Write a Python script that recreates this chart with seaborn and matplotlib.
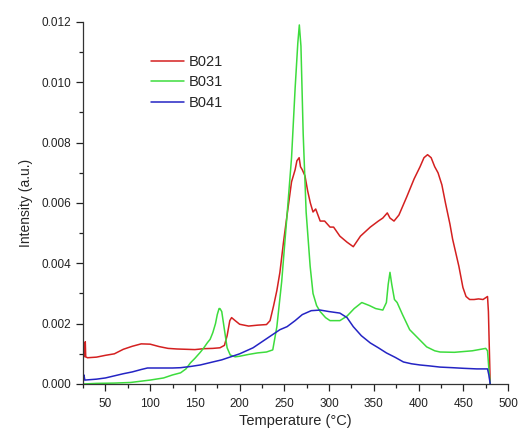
import matplotlib
matplotlib.use("Agg")
import matplotlib.pyplot as plt
import seaborn as sns
import pandas as pd
from matplotlib.ticker import MultipleLocator, FormatStrFormatter

# Data (temperature in deg C, intensity in a.u.)
temp_b021 = [27, 27.5, 28, 30, 35, 40, 50, 60, 70, 80, 90, 100, 110, 120, 130,
             140, 150, 160, 170, 178, 183, 186, 189, 191, 195, 200, 210, 220,
             230, 234, 238, 241.6, 245, 249, 253, 258, 262, 264, 266.5, 268,
             270, 273, 276, 279, 282, 285, 290, 295, 301, 305, 312, 320, 327,
             335, 346, 355, 360, 365, 368, 372.5, 378, 386.7, 395, 401.6, 406,
             410, 414, 418, 421.7, 426, 430, 435, 438, 445, 449.5, 453, 457,
             462, 467, 472, 477, 478, 479, 480]
int_b021 = [0.0009, 0.0014, 0.0009, 0.00087, 0.00088, 0.00089, 0.00095, 0.001,
            0.00115, 0.00125, 0.00133, 0.00132, 0.00124, 0.00118, 0.00116,
            0.00115, 0.00114, 0.00117, 0.00118, 0.0012, 0.00128, 0.0016,
            0.0021, 0.0022, 0.0021, 0.00198, 0.00192, 0.00195, 0.00197, 0.0021,
            0.0026, 0.0031, 0.0037, 0.0047, 0.0056, 0.0067, 0.0071, 0.0074,
            0.0075, 0.0072, 0.0071, 0.0069, 0.0064, 0.006, 0.0057, 0.0058,
            0.0054, 0.0054, 0.0052, 0.0052, 0.0049, 0.0047, 0.00455, 0.0049,
            0.0052, 0.0054, 0.0055, 0.00567, 0.0055, 0.0054, 0.0056, 0.0062,
            0.0068, 0.0072, 0.0075, 0.0076, 0.0075, 0.0072, 0.007, 0.0066,
            0.006, 0.0053, 0.0048, 0.0039, 0.0032, 0.0029, 0.0028, 0.0028,
            0.00282, 0.0028, 0.0029, 0.0024, 0.0012, 0.0]

temp_b031 = [25, 40, 60, 78, 100, 115, 125, 134, 140, 145, 150, 156, 160, 164,
             167, 170, 173, 175, 177, 178, 180, 182, 184, 186, 189.5, 195, 200,
             210, 220, 230, 237, 241.6, 247, 252.7, 258, 262, 265, 266.7,
             268.5, 271, 274.3, 278.8, 282, 286, 290, 296, 301, 312, 320, 328,
             336.5, 345, 352, 360, 364, 366, 368, 370, 373, 376, 382, 390, 400,
             409, 418, 424, 440, 460, 475, 477, 478.5, 480]
int_b031 = [0.0, 0.00002, 0.00003, 0.00005, 0.00013, 0.0002, 0.0003, 0.00037,
            0.0005, 0.0007, 0.00085, 0.00105, 0.0012, 0.00137, 0.00148,
            0.0017, 0.002, 0.0023, 0.0025, 0.0025, 0.0024, 0.002, 0.0016,
            0.0012, 0.00096, 0.0009, 0.00092, 0.00098, 0.00103, 0.00106,
            0.00113, 0.0019, 0.0034, 0.0055, 0.0075, 0.0098, 0.0113, 0.0119,
            0.0112, 0.0083, 0.0057, 0.0039, 0.003, 0.0026, 0.0024, 0.0022,
            0.0021, 0.0021, 0.00225, 0.0025, 0.0027, 0.0026, 0.0025, 0.00245,
            0.0027, 0.0033, 0.0037, 0.0033, 0.0028, 0.0027, 0.0023, 0.0018,
            0.0015, 0.00123, 0.0011, 0.00106, 0.00105, 0.0011, 0.00118, 0.0011,
            0.0005, 0.0]

temp_b041 = [25, 26, 27, 40, 50, 60, 70, 80, 90, 97, 110, 125, 134, 145, 156,
             170, 180, 190, 200, 215, 230, 245, 253, 262, 270, 280, 290, 300,
             312, 320, 327, 336, 346, 355, 364, 374, 383, 392, 401.6, 412, 424,
             438, 450, 465, 477, 478.5, 480]
int_b041 = [0.0, 0.0003, 0.00013, 0.00016, 0.0002, 0.00027, 0.00034, 0.0004,
            0.00048, 0.00053, 0.00053, 0.00053, 0.00054, 0.00058, 0.00063,
            0.00073, 0.0008, 0.0009, 0.001, 0.0012, 0.0015, 0.0018, 0.0019,
            0.0021, 0.0023, 0.00243, 0.00245, 0.0024, 0.00235, 0.0022, 0.0019,
            0.0016, 0.00136, 0.0012, 0.00103, 0.00088, 0.00073, 0.00067,
            0.00063, 0.0006, 0.00056, 0.00054, 0.00052, 0.0005, 0.0005,
            0.0003, 0.0]

series_names = ["B021", "B031", "B041"]
series_colors = ["#d42020", "#3ddc3d", "#2424c4"]

x_ticks = [50, 100, 150, 200, 250, 300, 350, 400, 450, 500]
y_ticks = [0.000, 0.002, 0.004, 0.006, 0.008, 0.010, 0.012]


def build_frame():
    parts = []
    for name, t, v in zip(series_names,
                          [temp_b021, temp_b031, temp_b041],
                          [int_b021, int_b031, int_b041]):
        parts.append(pd.DataFrame({"Temperature": t, "Intensity": v, "Sample": name}))
    return pd.concat(parts, ignore_index=True)


def plot_data(df):
    sns.set_style("ticks")
    plt.rcParams["font.family"] = ["Liberation Sans", "DejaVu Sans"]

    fig = plt.figure(figsize=(5.19, 4.30), dpi=100)
    ax = fig.add_axes([0.160, 0.107, 0.819, 0.842])

    sns.lineplot(data=df, x="Temperature", y="Intensity", hue="Sample",
                 palette=dict(zip(series_names, series_colors)),
                 estimator=None, sort=False, linewidth=1.1, ax=ax)

    ax.set_xlim(25, 500)
    ax.set_ylim(0, 0.012)
    ax.set_xticks(x_ticks)
    ax.set_yticks(y_ticks)
    ax.xaxis.set_minor_locator(MultipleLocator(25))
    ax.yaxis.set_minor_locator(MultipleLocator(0.001))
    ax.yaxis.set_major_formatter(FormatStrFormatter("%.3f"))
    ax.tick_params(which="major", direction="out", length=5, width=0.9,
                   labelsize=8.5, colors="#222222")
    ax.tick_params(axis="x", which="major", pad=5)
    ax.tick_params(which="minor", direction="out", length=3, width=0.9,
                   colors="#222222")

    for side in ["top", "right"]:
        ax.spines[side].set_visible(False)
    for side in ["left", "bottom"]:
        ax.spines[side].set_color("#333333")
        ax.spines[side].set_linewidth(0.9)

    ax.set_xlabel("Temperature (°C)", fontsize=10.5, labelpad=3)
    ax.set_ylabel("Intensity (a.u.)", fontsize=10, labelpad=6)

    ax.legend(loc="upper left", bbox_to_anchor=(0.13, 0.946), frameon=False,
              fontsize=10.5, handlelength=2.2, handletextpad=0.35,
              labelspacing=0.45, title=None)

    fig.savefig("out.png", dpi=100)


def main():
    df = build_frame()
    plot_data(df)


if __name__ == "__main__":
    main()
